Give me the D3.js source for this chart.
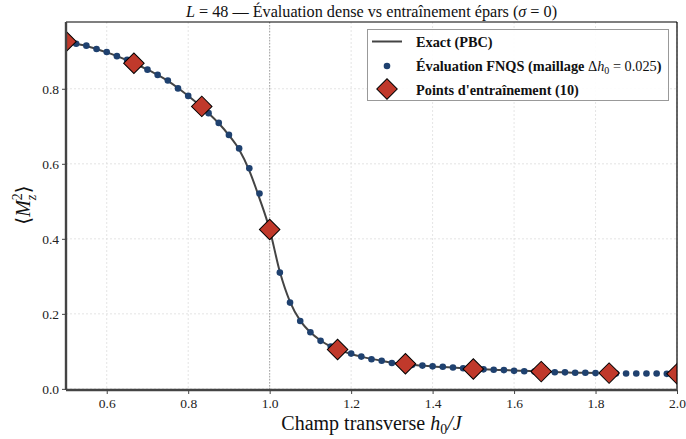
<!DOCTYPE html>
<html><head><meta charset="utf-8">
<script src="https://cdn.jsdelivr.net/npm/d3@7"></script>
<style>body{margin:0;background:#fff}svg{display:block}text{font-family:"Liberation Serif","DejaVu Serif",serif}</style>
</head><body><svg id="c" width="686" height="439"></svg>
<script>
// ---- data ----
const evalX = d3.range(61).map(i => +(0.5 + 0.025 * i).toFixed(3));
const evalY = [0.926,0.920,0.915,0.906,0.898,0.887,0.877,0.863,0.851,0.837,
  0.822,0.801,0.781,0.760,0.735,0.709,0.677,0.641,0.588,0.521,
  0.425,0.310,0.230,0.181,0.151,0.128,0.113,0.102,0.094,0.086,
  0.079,0.075,0.069,0.066,0.064,0.062,0.060,0.059,0.057,0.055,
  0.053,0.052,0.051,0.050,0.048,0.047,0.046,0.045,0.0445,0.044,
  0.043,0.043,0.042,0.042,0.041,0.041,0.041,0.041,0.041,0.040,0.040];
const exactX = evalX.filter(x => x <= 1.8001);
const exactY = [0.926,0.920,0.914,0.906,0.897,0.887,0.876,0.864,0.851,0.837,
  0.821,0.802,0.781,0.759,0.735,0.708,0.676,0.638,0.582,0.508,
  0.425,0.312,0.232,0.182,0.151,0.129,0.113,0.102,0.093,0.086,
  0.080,0.075,0.070,0.067,0.064,0.062,0.060,0.058,0.057,0.055,
  0.053,0.052,0.051,0.050,0.049,0.048,0.047,0.046,0.045,0.044,
  0.043,0.043,0.042];
const trainX = [0.5,0.6667,0.8333,1.0,1.1667,1.3333,1.5,1.6667,1.8333,2.0];
const trainY = [0.926,0.868,0.753,0.425,0.105,0.067,0.053,0.046,0.042,0.040];
const xTicks = [0.6,0.8,1.0,1.2,1.4,1.6,1.8,2.0];
const yTicks = [0.0,0.2,0.4,0.6,0.8];
const legendLabels = ["Exact (PBC)","Évaluation FNQS (maillage ","Points d'entraînement (10)"];

// ---- layout ----
const L = 66, R = 677, T = 22, B = 390;
const svg = d3.select("#c");
const x = d3.scaleLinear().domain([0.5, 2.0]).range([L, R]);
const y = d3.scaleLinear().domain([-0.003, 0.978]).range([B, T]);
const dotC = "#1f416f", diaC = "#c0392b";

// grid
const g = svg.append("g");
g.selectAll(".gx").data(xTicks).join("line")
  .attr("x1", d => x(d)).attr("x2", d => x(d)).attr("y1", T).attr("y2", B)
  .attr("stroke", "#ddd").attr("stroke-width", 0.8).attr("stroke-dasharray", "2,2");
g.selectAll(".gy").data(yTicks).join("line")
  .attr("y1", d => y(d)).attr("y2", d => y(d)).attr("x1", L).attr("x2", R)
  .attr("stroke", "#ddd").attr("stroke-width", 0.8).attr("stroke-dasharray", "2,2");
// critical line
svg.append("line").attr("x1", x(1.0)).attr("x2", x(1.0)).attr("y1", T).attr("y2", B)
  .attr("stroke", "#999").attr("stroke-width", 0.9).attr("stroke-dasharray", "1.5,1.5");

// clip
svg.append("clipPath").attr("id", "clip").append("rect")
  .attr("x", L).attr("y", T).attr("width", R - L).attr("height", B - T);
const plot = svg.append("g").attr("clip-path", "url(#clip)");

// exact line
const line = d3.line().x(d => x(d[0])).y(d => y(d[1])).curve(d3.curveMonotoneX);
plot.append("path").datum(exactX.map((v, i) => [v, exactY[i]]))
  .attr("d", line).attr("fill", "none").attr("stroke", "#444").attr("stroke-width", 2);
// eval dots
plot.selectAll(".dot").data(evalX.map((v, i) => [v, evalY[i]])).join("circle")
  .attr("cx", d => x(d[0])).attr("cy", d => y(d[1])).attr("r", 3.3).attr("fill", dotC);
// training diamonds
const dia = d3.symbol().type(d3.symbolSquare).size(210);
plot.selectAll(".dia").data(trainX.map((v, i) => [v, trainY[i]])).join("path")
  .attr("d", dia).attr("transform", d => `translate(${x(d[0])},${y(d[1])}) rotate(45)`)
  .attr("fill", diaC).attr("stroke", "#000").attr("stroke-width", 1);

// spines
svg.append("line").attr("x1", L).attr("x2", R).attr("y1", T).attr("y2", T).attr("stroke", "#000").attr("stroke-width", 1.2);
svg.append("line").attr("x1", R).attr("x2", R).attr("y1", T).attr("y2", B).attr("stroke", "#000").attr("stroke-width", 1.2);

// axes
const xa = svg.append("g").attr("transform", `translate(0,${B})`)
  .call(d3.axisBottom(x).tickValues(xTicks).tickFormat(d3.format(".1f")).tickSize(4).tickPadding(4));
const ya = svg.append("g").attr("transform", `translate(${L},0)`)
  .call(d3.axisLeft(y).tickValues(yTicks).tickFormat(d3.format(".1f")).tickSize(4).tickPadding(3));
[xa, ya].forEach(a => {
  a.select(".domain").attr("stroke", "#444").attr("stroke-width", 2.4);
  a.selectAll(".tick line").attr("stroke", "#444").attr("stroke-width", 1);
  a.selectAll(".tick text").attr("font-family", "Liberation Serif").attr("font-size", 13.5).attr("fill", "#222");
});
xa.select(".domain").attr("d", `M${L},0H${R}`);
ya.select(".domain").attr("d", `M0,${T}V${B}`);

// title
const tt = svg.append("text").attr("x", (L + R) / 2).attr("y", 17).attr("text-anchor", "middle").attr("font-size", 16.2).attr("fill", "#111");
tt.append("tspan").attr("font-style", "italic").text("L");
tt.append("tspan").text(" = 48 — Évaluation dense vs entraînement épars (");
tt.append("tspan").attr("font-style", "italic").text("σ");
tt.append("tspan").text(" = 0)");

// x label
const xl = svg.append("text").attr("x", (L + R) / 2).attr("y", 430).attr("text-anchor", "middle").attr("font-size", 20).attr("fill", "#111");
xl.append("tspan").text("Champ transverse ");
xl.append("tspan").attr("font-style", "italic").text("h");
xl.append("tspan").attr("font-size", 14).attr("dy", 4).text("0");
xl.append("tspan").attr("dy", -4).attr("font-style", "italic").text("/J");

// y label
const yl = svg.append("text").attr("transform", "translate(30,205) rotate(-90)").attr("text-anchor", "middle").attr("font-size", 20).attr("fill", "#111");
yl.append("tspan").text("⟨");
yl.append("tspan").attr("font-style", "italic").text("M");
yl.append("tspan").attr("font-size", 14).attr("dy", -8).text("2");
yl.append("tspan").attr("font-size", 14).attr("font-style", "italic").attr("dx", -7).attr("dy", 14).text("z");
yl.append("tspan").attr("dy", -6).attr("dx", 1.5).text("⟩");

// legend
const lg = svg.append("g");
lg.append("rect").attr("x", 367.5).attr("y", 29.5).attr("width", 301).attr("height", 71)
  .attr("fill", "#fff").attr("fill-opacity", 0.9).attr("stroke", "#999").attr("stroke-width", 1);
lg.append("line").attr("x1", 372).attr("x2", 402).attr("y1", 41.5).attr("y2", 41.5).attr("stroke", "#444").attr("stroke-width", 2);
lg.append("circle").attr("cx", 387).attr("cy", 66).attr("r", 3.3).attr("fill", dotC);
lg.append("path").attr("d", dia).attr("transform", "translate(387,89) rotate(45)").attr("fill", diaC).attr("stroke", "#000").attr("stroke-width", 1);
const lt = (yy) => lg.append("text").attr("x", 416).attr("y", yy).attr("font-size", 14.3).attr("font-weight", "bold").attr("fill", "#111");
lt(46.5).text(legendLabels[0]);
const l2 = lt(71);
l2.append("tspan").text(legendLabels[1]);
l2.append("tspan").attr("font-weight", "normal").text("Δ");
l2.append("tspan").attr("font-weight", "normal").attr("font-style", "italic").text("h");
l2.append("tspan").attr("font-weight", "normal").attr("font-size", 10).attr("dy", 3).text("0");
l2.append("tspan").attr("font-weight", "normal").attr("dy", -3).text(" = 0.025");
l2.append("tspan").text(")");
lt(94.5).text(legendLabels[2]);
</script></body></html>
